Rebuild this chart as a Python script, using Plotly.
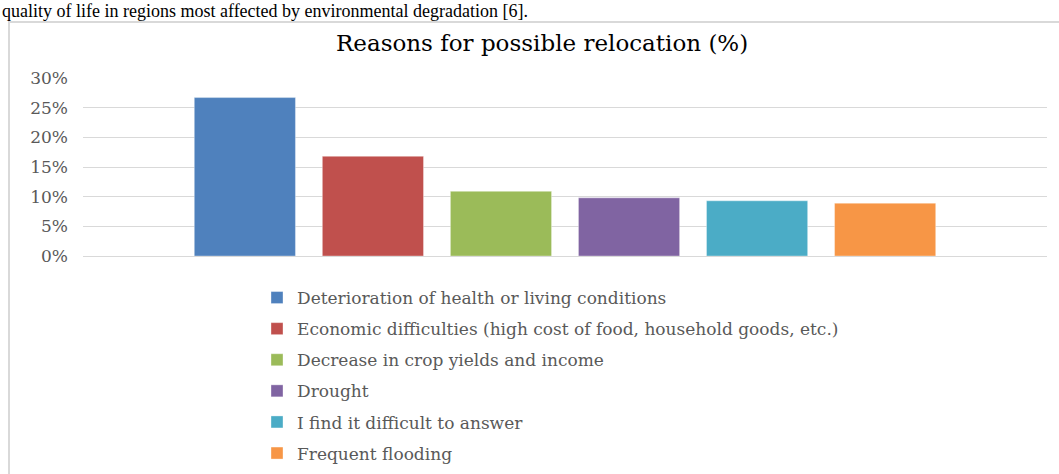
import plotly.graph_objects as go

categories = [
    "Deterioration of health or living conditions",
    "Economic difficulties (high cost of food, household goods, etc.)",
    "Decrease in crop yields and income",
    "Drought",
    "I find it difficult to answer",
    "Frequent flooding",
]
values = [0.267, 0.168, 0.109, 0.098, 0.093, 0.089]
colors = ["#4F81BD", "#C0504D", "#9BBB59", "#8064A2", "#4BACC6", "#F79646"]
group_label = ["Reasons for possible relocation"]
title_text = "Reasons for possible relocation (%)"
header_text = "quality of life in regions most affected by environmental degradation [6]."

W, H = 1059, 474
L, R, T, B = 83, 12, 78, 218
pw, ph = W - L - R, H - T - B


def px_x(x):
    return (x - L) / pw


def px_y(y):
    return (H - B - y) / ph


fig = go.Figure()
for name, v, c in zip(categories, values, colors):
    fig.add_trace(go.Bar(
        x=group_label, y=[v], name=name, legendgroup=name,
        marker=dict(color=c, line=dict(color="rgba(255,255,255,0.35)", width=1)),
        hoverinfo="skip",
    ))

fig.update_layout(
    width=W, height=H,
    margin=dict(l=L, r=R, t=T, b=B, pad=0, autoexpand=False),
    paper_bgcolor="white", plot_bgcolor="white",
    barmode="group", bargap=0.203, bargroupgap=0.21,
    font=dict(family="DejaVu Serif", color="#595959"),
    showlegend=True,
    legend=dict(orientation="v", x=px_x(257), xanchor="left",
                y=px_y(280), yanchor="top", tracegroupgap=6,
                font=dict(family="DejaVu Serif", size=17, color="#595959"),
                bgcolor="rgba(0,0,0,0)"),
    xaxis=dict(type="category", range=[-0.5, 0.5], showticklabels=False,
               showgrid=False, showline=False, zeroline=False,
               fixedrange=True, automargin=False),
    yaxis=dict(range=[0, 0.30], dtick=0.05, tickformat=".0%",
               showgrid=True, gridcolor="#D9D9D9", gridwidth=1,
               zeroline=True, zerolinecolor="#D9D9D9", zerolinewidth=1,
               showline=False, ticks="", ticklabelstandoff=14, automargin=False,
               tickfont=dict(family="DejaVu Serif", size=17, color="#595959")),
    shapes=[dict(type="rect", xref="paper", yref="paper",
                 x0=px_x(9), x1=px_x(1075), y0=px_y(22), y1=px_y(520),
                 line=dict(color="#D9D9D9", width=2), layer="below")],
    annotations=[
        dict(text=header_text, xref="paper", yref="paper",
             x=px_x(1), y=px_y(0), xanchor="left", yanchor="top",
             showarrow=False, borderpad=0,
             font=dict(family="Liberation Serif", size=18, color="#000000")),
        dict(text=title_text, xref="paper", yref="paper",
             x=px_x(542), y=px_y(43), xanchor="center", yanchor="middle",
             showarrow=False,
             font=dict(family="DejaVu Serif", size=23, color="#000000")),
    ],
)

fig.write_html("out.html", config={"displayModeBar": False},
               post_script="document.body.style.margin='0';")
